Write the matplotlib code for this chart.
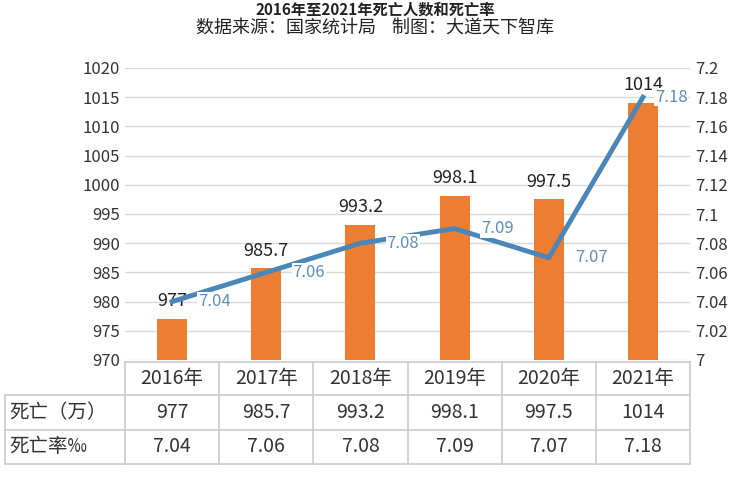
import matplotlib.pyplot as plt
from matplotlib.lines import Line2D

plt.rcParams["font.family"] = ["Noto Sans CJK SC", "DejaVu Sans"]

years = ["2016年", "2017年", "2018年", "2019年", "2020年", "2021年"]
deaths = [977, 985.7, 993.2, 998.1, 997.5, 1014]
rates = [7.04, 7.06, 7.08, 7.09, 7.07, 7.18]
row_names = ["死亡（万）", "死亡率‰"]
death_text = ["977", "985.7", "993.2", "998.1", "997.5", "1014"]
rate_text = ["7.04", "7.06", "7.08", "7.09", "7.07", "7.18"]

W, H = 750, 500
fig = plt.figure(figsize=(7.5, 5), dpi=100)

x0, x1, y_top, y_bot = 125, 690, 68, 360
ax = fig.add_axes([x0 / W, 1 - y_bot / H, (x1 - x0) / W, (y_bot - y_top) / H])
xs = range(len(years))
ax.bar(xs, deaths, width=0.32, color="#ed7d31", zorder=2)
ax.set_xlim(-0.5, len(years) - 0.5)
ax.set_ylim(970, 1020)
ax.set_yticks(range(970, 1021, 5))
ax.set_xticks([])
ax.grid(axis="y", color="#d9d9d9", lw=1, zorder=0)
for s in ["top", "right", "left", "bottom"]:
    ax.spines[s].set_visible(False)
ax.tick_params(axis="y", length=0, labelsize=12, colors="#333333")
for x, v, t in zip(xs, deaths, death_text):
    ax.text(x, v + 1.5, t, ha="center", va="bottom", fontsize=13, color="#222222")

ax2 = ax.twinx()
ax2.plot(xs, rates, color="#4a86b8", lw=3.5, zorder=3)
ax2.set_ylim(7, 7.2)
ax2.set_yticks([7 + 0.02 * i for i in range(11)])
ax2.set_yticklabels(["7", "7.02", "7.04", "7.06", "7.08", "7.1", "7.12", "7.14",
                     "7.16", "7.18", "7.2"])
for s in ["top", "right", "left", "bottom"]:
    ax2.spines[s].set_visible(False)
ax2.tick_params(axis="y", length=0, labelsize=12, colors="#333333")
for x, v, t in zip(xs, rates, rate_text):
    dx = 0.45 if x < len(xs) - 1 else 0.3
    ax2.text(x + dx, v, t, ha="center", va="center", fontsize=12, color="#5b8fbf",
             bbox=dict(facecolor="white", edgecolor="none", pad=0.5), zorder=4)

# data table under the chart
rows_y = [362, 395, 430, 464]
col_x = [5] + [x0 + (x1 - x0) / 6 * i for i in range(7)]
lc = "#cccccc"


def fx(px):
    return px / W


def fy(py):
    return 1 - py / H


for i, y in enumerate(rows_y):
    left = x0 if i == 0 else col_x[0]
    fig.add_artist(Line2D([fx(left), fx(x1)], [fy(y), fy(y)], color=lc, lw=1.2))
for i, x in enumerate(col_x):
    top = rows_y[1] if i == 0 else rows_y[0]
    fig.add_artist(Line2D([fx(x), fx(x)], [fy(top), fy(rows_y[-1])], color=lc, lw=1.2))

for r, vals in enumerate([years, death_text, rate_text]):
    yc = (rows_y[r] + rows_y[r + 1]) / 2
    for c, t in enumerate(vals):
        xc = (col_x[c + 1] + col_x[c + 2]) / 2
        fig.text(fx(xc), fy(yc), t, ha="center", va="center", fontsize=14, color="#333333")
    if r > 0:
        fig.text(fx(col_x[0] + 4), fy(yc), row_names[r - 1], ha="left", va="center",
                 fontsize=14, color="#333333")

fig.text(0.5, fy(10), "2016年至2021年死亡人数和死亡率", ha="center", va="center",
         fontsize=11, fontweight="bold", color="#222222")
fig.text(0.5, fy(29), "数据来源：国家统计局    制图：大道天下智库", ha="center", va="center",
         fontsize=13, color="#222222")

fig.savefig("out.png", dpi=100)
